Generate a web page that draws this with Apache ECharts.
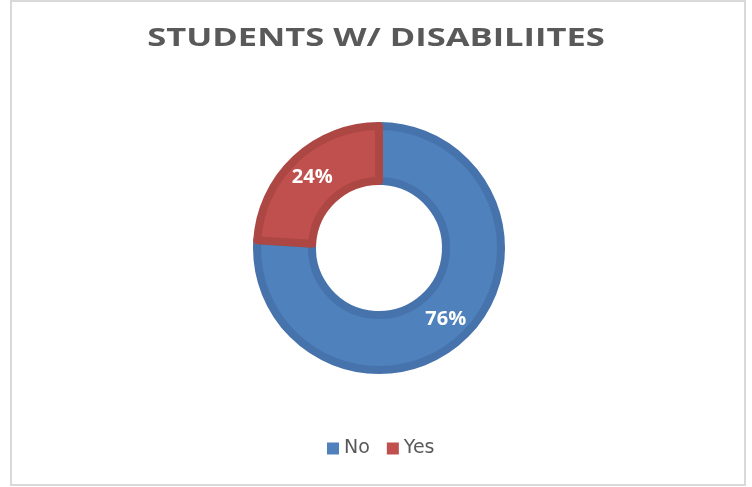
<!DOCTYPE html>
<html>
<head>
<meta charset="utf-8">
<script src="https://cdn.jsdelivr.net/npm/echarts@6/dist/echarts.min.js"></script>
<style>
html,body{margin:0;padding:0;background:#fff;}
#c{width:752px;height:487px;}
</style>
</head>
<body>
<div id="c"></div>
<script>
const titleText = 'STUDENTS W/ DISABILIITES';
const categories = ['No', 'Yes'];
const values = [76, 24];
const fillColors = ['#4F81BD', '#C0504D'];
const bandColors = ['#4673AB', '#AC4744'];

const chart = echarts.init(document.getElementById('c'));
chart.setOption({
  animation: false,
  graphic: [{
    type: 'rect',
    shape: {x: 11, y: 1, width: 734, height: 484},
    style: {fill: 'none', stroke: '#D9D9D9', lineWidth: 2},
    silent: true
  }, {
    type: 'text',
    x: 376,
    y: 51,
    originX: 0,
    originY: 0,
    scaleX: 1.38,
    style: {
      text: titleText,
      fill: '#595959',
      font: 'bold 25px "Open Sans"',
      align: 'center',
      verticalAlign: 'bottom'
    },
    silent: true
  }],
  legend: {
    data: categories,
    left: 322,
    top: 434,
    itemWidth: 12,
    itemHeight: 12,
    itemGap: 17,
    icon: 'rect',
    itemStyle: {borderWidth: 0},
    textStyle: {fontFamily: 'DejaVu Sans', fontSize: 19, color: '#595959'}
  },
  series: [{
    type: 'pie',
    center: [379, 248],
    radius: [67, 122],
    startAngle: 90,
    clockwise: true,
    avoidLabelOverlap: false,
    label: {
      show: true,
      position: 'inside',
      formatter: '{c}%',
      fontFamily: 'Open Sans',
      fontWeight: 'bold',
      fontSize: 20,
      color: '#fff'
    },
    labelLine: {show: false},
    emphasis: {disabled: true},
    data: categories.map((n, i) => ({
      name: n,
      value: values[i],
      itemStyle: {color: fillColors[i], borderColor: bandColors[i], borderWidth: 8}
    }))
  }]
});
</script>
</body>
</html>
